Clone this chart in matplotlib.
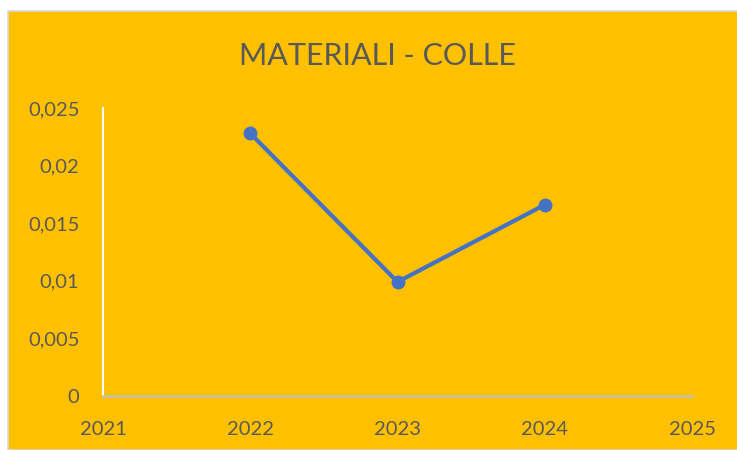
import matplotlib.pyplot as plt
from matplotlib.patches import Rectangle
from matplotlib.ticker import FuncFormatter

years = [2022, 2023, 2024]
values = [0.0228, 0.0099, 0.0166]
title = 'MATERIALI - COLLE'

ORANGE = '#FFC000'
TEXT = '#595959'
BLUE = '#4472C4'

plt.rcParams['font.family'] = ['Lato', 'DejaVu Sans']

fig = plt.figure(figsize=(7.37, 4.5), dpi=100)
fig.patch.set_facecolor('white')
# orange chart area with light grey frame
fig.patches.append(Rectangle((8 / 737, 0), 1, 1 - 11 / 450, transform=fig.transFigure,
                             facecolor=ORANGE, edgecolor='#D9D9D9', linewidth=1.2, zorder=-10))

ax = fig.add_axes([103 / 737, 54 / 450, 589 / 737, 288 / 450])
ax.set_facecolor('none')
ax.plot(years, values, color=BLUE, linewidth=3, marker='o', markersize=9,
        solid_capstyle='round', clip_on=False)

ax.set_xlim(2021, 2025)
ax.set_ylim(0, 0.025)
ax.set_xticks([2021, 2022, 2023, 2024, 2025])
ax.set_yticks([0, 0.005, 0.01, 0.015, 0.02, 0.025])
ax.yaxis.set_major_formatter(FuncFormatter(lambda v, p: '0' if v == 0 else ('%g' % round(v, 3)).replace('.', ',')))
ax.tick_params(length=0, labelsize=14.5, labelcolor=TEXT)
ax.tick_params(axis='x', pad=18)
ax.tick_params(axis='y', pad=17)

for s in ['top', 'right']:
    ax.spines[s].set_visible(False)
ax.spines['left'].set_color('white')
ax.spines['left'].set_linewidth(1.5)
ax.spines['bottom'].set_color('#C8C0A8')
ax.spines['bottom'].set_linewidth(2)

fig.text(377 / 737, 1 - 56 / 450, title, ha='center', va='center', fontsize=22, color=TEXT)

fig.savefig('out.png', dpi=100, facecolor=fig.get_facecolor())
